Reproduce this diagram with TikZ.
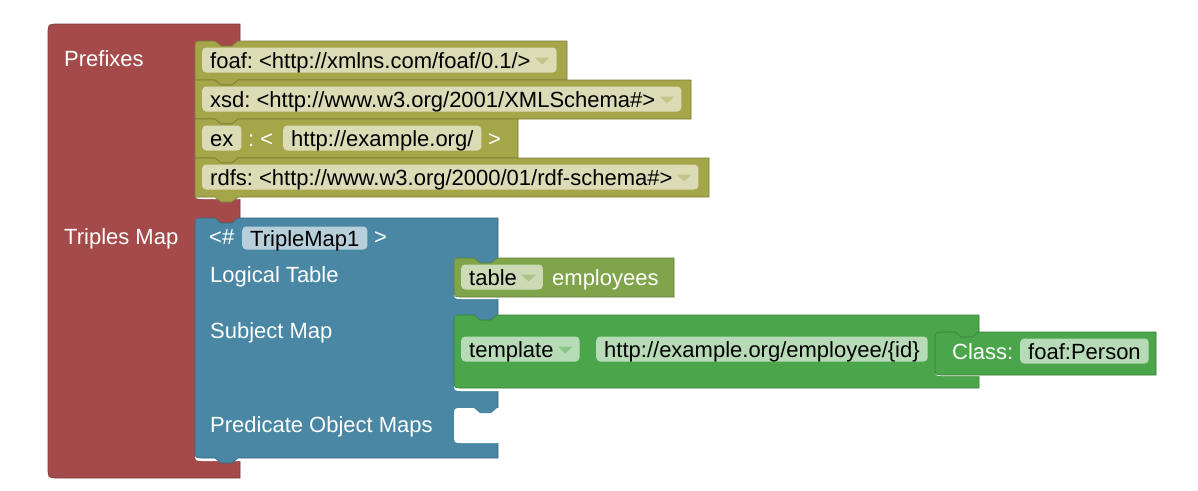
\documentclass[tikz,border=0pt]{standalone}
\usepackage{fontspec}
\setmainfont{Liberation Sans}
\usepackage{tikz}
\usetikzlibrary{calc}
\frenchspacing
\definecolor{prefixred}{RGB}{165,74,74}
\definecolor{prefixolive}{RGB}{165,165,74}
\definecolor{mapblue}{RGB}{74,135,165}
\definecolor{tablegreen}{RGB}{128,164,74}
\definecolor{subjgreen}{RGB}{75,165,75}
% block: colour, x0, y0, x1, y1, top corner, bottom corner, tab depth
\newcommand{\blockbody}[8]{%
\filldraw[fill=#1, draw=#1!75!black, line width=0.6pt]
 ({#2},{#3+#6}) .. controls ({#2},{#3}) .. ({#2+#6},{#3})
 -- ({#2+20},{#3}) -- ({#2+26},{#3+5}) -- ({#2+37},{#3+5}) -- ({#2+43},{#3})
 -- ({#4},{#3}) -- ({#4},{#5})
 -- ({#2+43},{#5}) -- ({#2+37},{#5+#8}) -- ({#2+26},{#5+#8}) -- ({#2+20},{#5})
 -- ({#2+#7},{#5}) .. controls ({#2},{#5}) .. ({#2},{#5-#7}) -- cycle;}
% input slot: parent colour, x0, y0, x1, y1
\newcommand{\blockinput}[5]{%
\fill[white] ({#2},{#3+8}) .. controls ({#2},{#3}) .. ({#2+8},{#3})
 -- ({#4},{#3}) -- ({#4},{#5}) -- ({#2+8},{#5}) .. controls ({#2},{#5}) .. ({#2},{#5-8}) -- cycle;
\fill[#1] ({#2+20},{#3}) -- ({#2+26},{#3+5}) -- ({#2+37},{#3+5}) -- ({#2+43},{#3}) -- cycle;}
\newcommand{\dropdown}[2]{%
\fill[#2!65!white] ($(#1.east)+(-22,-2.5)$) -- ++(15,0) -- ++(-7.5,7) -- cycle;}
\newcommand{\ddspace}{\kern18pt}
\tikzset{
 field/.style={fill=white, fill opacity=0.6, text opacity=1, text=black, rounded corners=4pt,
   inner xsep=8pt, inner ysep=0pt, minimum height=25pt, text height=16pt, text depth=0pt, anchor=west},
 lbl/.style={text=white, inner sep=0pt, anchor=base west}
}
\begin{document}
\begin{tikzpicture}[x=1pt,y=-1pt,font=\fontsize{22pt}{26pt}\selectfont]
\useasboundingbox (0,0) rectangle (1198,490);
% outer block
\filldraw[fill=prefixred, draw=prefixred!75!black, line width=0.6pt]
 (48,34) .. controls (48,24) .. (58,24) -- (240,24) -- (240,478)
 -- (58,478) .. controls (48,478) .. (48,468) -- cycle;
\blockinput{prefixred}{195}{41}{260}{199}
\blockinput{prefixred}{195}{218}{260}{461}
\node[lbl] (prefixes) at (64,66) {Prefixes};
\node[lbl] (triplesmap) at (64,244) {Triples Map};
% prefixes
\foreach \ya/\yb/\xr/\rr in {41/80/567/8, 80/119/691/0, 119/158/518/0, 158/197/709/0}
  \blockbody{prefixolive}{195}{\ya}{\xr}{\yb}{\rr}{0}{5};
\node[field] (foaf) at (202,60) {foaf: <http://xmlns.com/foaf/0.1/>\ddspace};
\dropdown{foaf}{prefixolive}
\node[field] (xsd) at (202,99) {xsd: <http://www.w3.org/2001/XMLSchema\#>\ddspace};
\dropdown{xsd}{prefixolive}
\node[field] (ex) at (202,138) {ex};
\node[lbl] (exopen) at (248,146) {: <};
\node[field] (exurl) at (283,138) {http://example.org/};
\node[lbl] (exclose) at (488,146) {>};
\node[field] (rdfs) at (202,177) {rdfs: <http://www.w3.org/2000/01/rdf-schema\#>\ddspace};
\dropdown{rdfs}{prefixolive}
% triples map
\blockbody{mapblue}{195}{218}{498}{458}{8}{8}{5}
\blockinput{mapblue}{454}{258}{510}{299}
\blockinput{mapblue}{454}{315}{510}{391}
\blockinput{mapblue}{454}{408}{510}{443}
\node[lbl] (mapopen) at (209,244) {<\#};
\node[field, minimum height=23pt] (mapname) at (242,238) {TripleMap1};
\node[lbl] (mapclose) at (374,244) {>};
\node[lbl] (logical) at (210,282) {Logical Table};
\node[lbl] (subject) at (210,338) {Subject Map};
\node[lbl] (predicate) at (210,432) {Predicate Object Maps};
% logical table
\blockbody{tablegreen}{454}{258}{674}{297}{8}{8}{0}
\node[field] (table) at (461,277) {table\ddspace};
\dropdown{table}{tablegreen}
\node[lbl] (employees) at (552,285) {employees};
% subject map
\blockbody{subjgreen}{454}{315}{979}{388}{8}{8}{0}
\blockinput{subjgreen}{935}{332}{990}{376}
\node[field] (template) at (461,349) {template\ddspace};
\dropdown{template}{subjgreen}
\node[field] (tplurl) at (596,349) {http://example.org/employee/\{id\}};
\blockbody{subjgreen}{935}{332}{1156}{375}{8}{8}{0}
\node[lbl] (class) at (952,359) {Class:};
\node[field] (classname) at (1020,351) {foaf:Person};
\end{tikzpicture}
\end{document}
